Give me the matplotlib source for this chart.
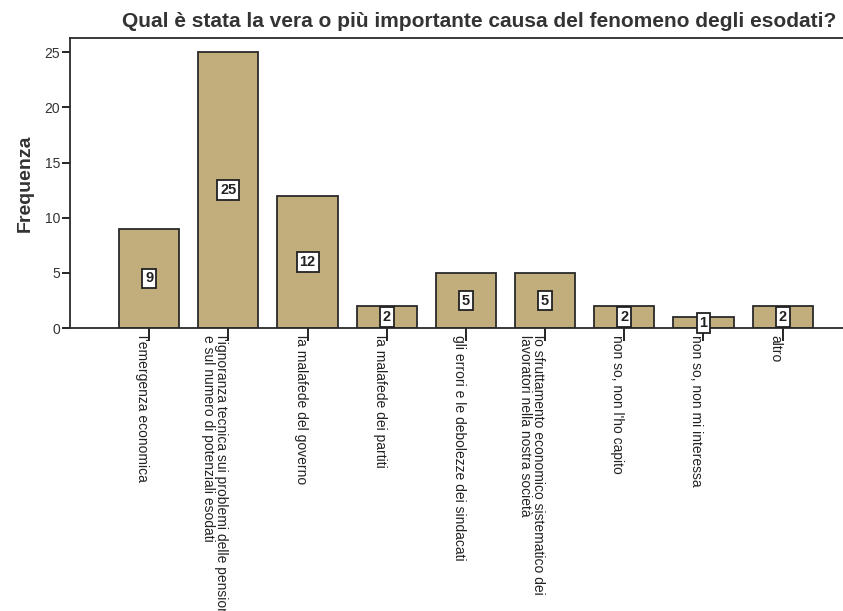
import matplotlib.pyplot as plt

plt.rcParams["font.family"] = ["Liberation Sans", "DejaVu Sans"]

categories = [
    "l'emergenza economica",
    "l'ignoranza tecnica sui problemi delle pensioni\ne sul numero di potenziali esodati",
    "la malafede del governo",
    "la malafede dei partiti",
    "gli errori e le debolezze dei sindacati",
    "lo sfruttamento economico sistematico dei\nlavoratori nella nostra società",
    "non so, non l'ho capito",
    "non so, non mi interessa",
    "altro",
]
counts = [9, 25, 12, 2, 5, 5, 2, 1, 2]
y_ticks = [0, 5, 10, 15, 20, 25]

BAR_COLOR = "#C2AD7C"

fig = plt.figure(figsize=(8.43, 6.11), dpi=100)
ax = fig.add_axes([0.083, 0.463, 0.93, 0.475])

x = list(range(len(categories)))
ax.bar(x, counts, width=0.76, color=BAR_COLOR, edgecolor="#2a2a2a", linewidth=1.3)

# value boxes in the middle of each bar
for xi, v in zip(x, counts):
    ax.text(xi, v / 2, str(v), ha="center", va="center", fontsize=10.5,
            fontweight="bold", color="#222222",
            bbox=dict(boxstyle="square,pad=0.2", facecolor="white",
                      edgecolor="#222222", linewidth=1.3))

ax.set_xlim(-1, 8.9)
ax.set_ylim(0, 26.3)
ax.set_yticks(y_ticks)
ax.set_yticklabels([str(t) for t in y_ticks], fontsize=10, color="#333333")
ax.set_xticks(x)
ax.set_xticklabels(categories, rotation=270, ha="right", va="top",
                   fontsize=10, color="#222222", linespacing=0.95)
for lbl in ax.get_xticklabels():
    lbl.set_multialignment("left")

ax.tick_params(axis="y", direction="out", length=6, width=1.2, pad=1)
ax.tick_params(axis="x", direction="out", length=9, width=1.2, pad=-4)

for side in ["left", "top", "bottom"]:
    ax.spines[side].set_linewidth(1.3)
    ax.spines[side].set_color("#2a2a2a")
ax.spines["right"].set_visible(False)

ax.set_ylabel("Frequenza", fontsize=14, fontweight="bold", color="#333333", labelpad=8)
fig.text(0.569, 0.964, "Qual è stata la vera o più importante causa del fenomeno degli esodati?",
         ha="center", va="center", fontsize=15, fontweight="bold", color="#333333")

plt.savefig("out.png", dpi=100)
plt.close()
